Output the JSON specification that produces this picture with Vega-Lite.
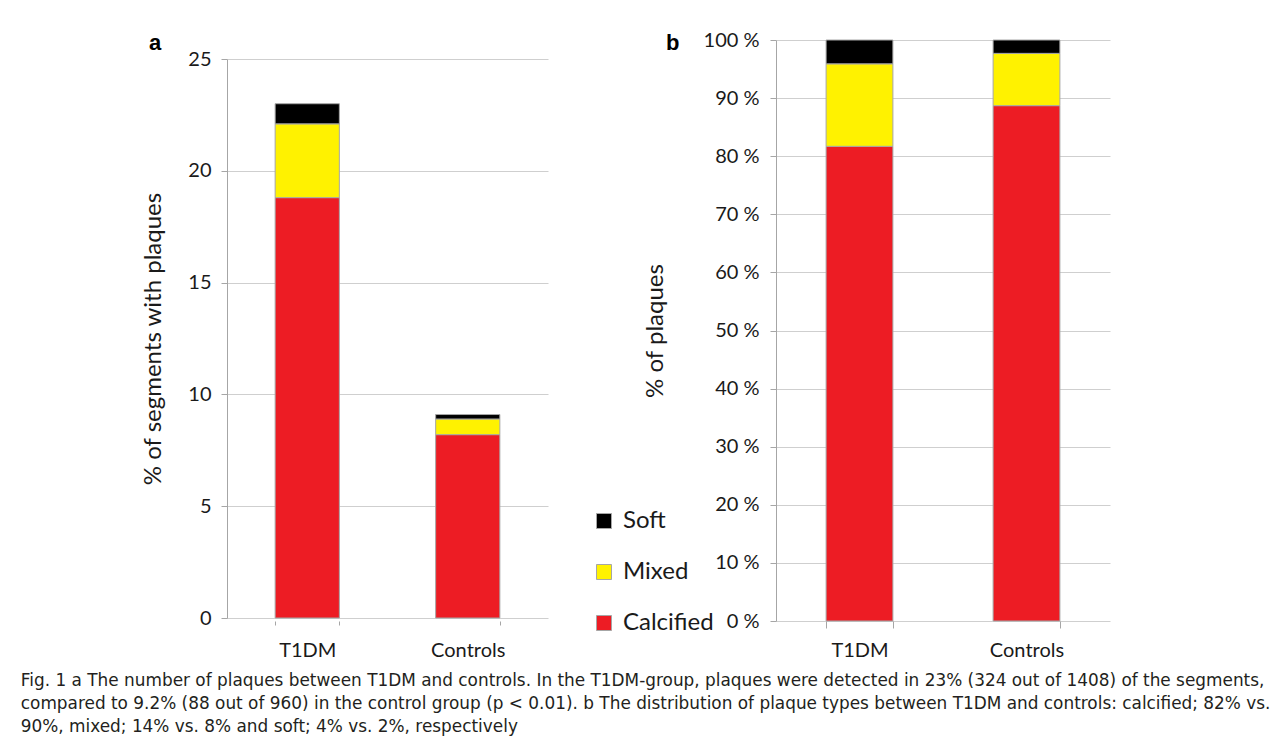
{
  "$schema": "https://vega.github.io/schema/vega-lite/v6.json",
  "background": "white",
  "padding": {"left": 20, "top": 30, "right": 5, "bottom": 5},
  "config": {
    "font": "Lato",
    "view": {"stroke": null},
    "axis": {
      "labelFont": "Lato", "titleFont": "Lato",
      "labelColor": "#1a1a1a", "titleColor": "#1a1a1a",
      "labelFontSize": 20, "titleFontSize": 24, "titleFontWeight": "normal",
      "domainColor": "#a6a6a6", "tickColor": "#a6a6a6", "gridColor": "#cfcfcf",
      "tickSize": 6
    },
    "legend": {"labelFont": "Lato"}
  },
  "datasets": {
    "counts": [
      {"group": "T1DM", "type": "Calcified", "value": 18.8},
      {"group": "T1DM", "type": "Mixed", "value": 3.3},
      {"group": "T1DM", "type": "Soft", "value": 0.9},
      {"group": "Controls", "type": "Calcified", "value": 8.2},
      {"group": "Controls", "type": "Mixed", "value": 0.7},
      {"group": "Controls", "type": "Soft", "value": 0.2}
    ],
    "dist": [
      {"group": "T1DM", "type": "Calcified", "value": 81.7},
      {"group": "T1DM", "type": "Mixed", "value": 14.2},
      {"group": "T1DM", "type": "Soft", "value": 4.1},
      {"group": "Controls", "type": "Calcified", "value": 88.7},
      {"group": "Controls", "type": "Mixed", "value": 9.0},
      {"group": "Controls", "type": "Soft", "value": 2.3}
    ]
  },
  "title": {
    "text": [
      "Fig. 1  a The number of plaques between T1DM and controls. In the T1DM-group, plaques were detected in 23% (324 out of 1408) of the segments,",
      "compared to 9.2% (88 out of 960) in the control group (p < 0.01). b The distribution of plaque types between T1DM and controls: calcified; 82% vs.",
      "90%, mixed; 14% vs. 8% and soft; 4% vs. 2%, respectively"
    ],
    "orient": "bottom", "anchor": "start", "frame": "bounds",
    "dx": -121, "offset": 13,
    "font": "DejaVu Sans", "fontSize": 16.9, "fontWeight": "normal",
    "lineHeight": 23, "color": "#231f20"
  },
  "spacing": 44,
  "resolve": {"legend": {"color": "independent"}},
  "hconcat": [
    {
      "width": 321, "height": 581,
      "title": {"text": "a", "anchor": "start", "frame": "group", "dx": -78, "offset": -32, "baseline": "alphabetic", "font": "Liberation Sans", "fontSize": 22, "fontWeight": "bold", "color": "#000000"},
      "data": {"name": "counts"},
      "mark": {"type": "bar", "stroke": "#a6a6a6", "strokeWidth": 1},
      "encoding": {
        "x": {
          "field": "group", "type": "nominal", "sort": ["T1DM", "Controls"],
          "scale": {"paddingInner": 0.6, "paddingOuter": 0.3},
          "axis": {"title": null, "labelAngle": 0, "tickBand": "extent", "domain": false, "grid": false, "tickSize": 4, "labelPadding": 15}
        },
        "y": {
          "field": "value", "type": "quantitative", "stack": "zero",
          "scale": {"domain": [0, 25], "range": [578, 19]},
          "axis": {"values": [0, 5, 10, 15, 20, 25], "title": "% of segments with plaques", "labelPadding": 10, "titlePadding": 22, "grid": true}
        },
        "color": {
          "field": "type", "type": "nominal",
          "scale": {"domain": ["Soft", "Mixed", "Calcified"], "range": ["#000000", "#fff200", "#ed1c24"]},
          "legend": null
        },
        "order": {"field": "type", "sort": "ascending"}
      }
    },
    {
      "width": 388, "height": 581,
      "title": {"text": "b", "anchor": "start", "frame": "group", "dx": -110, "offset": -42, "baseline": "alphabetic", "font": "Liberation Sans", "fontSize": 22, "fontWeight": "bold", "color": "#000000"},
      "data": {"name": "dist"},
      "mark": {"type": "bar", "stroke": "#a6a6a6", "strokeWidth": 1},
      "encoding": {
        "x": {
          "field": "group", "type": "nominal", "sort": ["T1DM", "Controls"],
          "scale": {"paddingInner": 0.6, "paddingOuter": 0.3, "range": [0, 334]},
          "axis": {"title": null, "labelAngle": 0, "tickBand": "extent", "domain": false, "grid": false, "tickSize": 7, "labelPadding": 12}
        },
        "y": {
          "field": "value", "type": "quantitative", "stack": "zero",
          "scale": {"domain": [0, 100]},
          "axis": {"values": [0, 10, 20, 30, 40, 50, 60, 70, 80, 90, 100], "labelExpr": "datum.value + ' %'", "title": "% of plaques", "labelPadding": 11, "titlePadding": 36, "grid": true}
        },
        "color": {
          "field": "type", "type": "nominal",
          "scale": {"domain": ["Soft", "Mixed", "Calcified"], "range": ["#000000", "#fff200", "#ed1c24"]},
          "legend": {
            "title": null, "orient": "none", "legendX": -184, "legendY": 469,
            "symbolType": "square", "symbolSize": 225, "symbolStrokeColor": "#a6a6a6", "symbolStrokeWidth": 1,
            "labelFontSize": 24, "labelColor": "#1a1a1a", "labelOffset": 7, "rowPadding": 27, "padding": 0
          }
        },
        "order": {"field": "type", "sort": "ascending"}
      }
    }
  ]
}
